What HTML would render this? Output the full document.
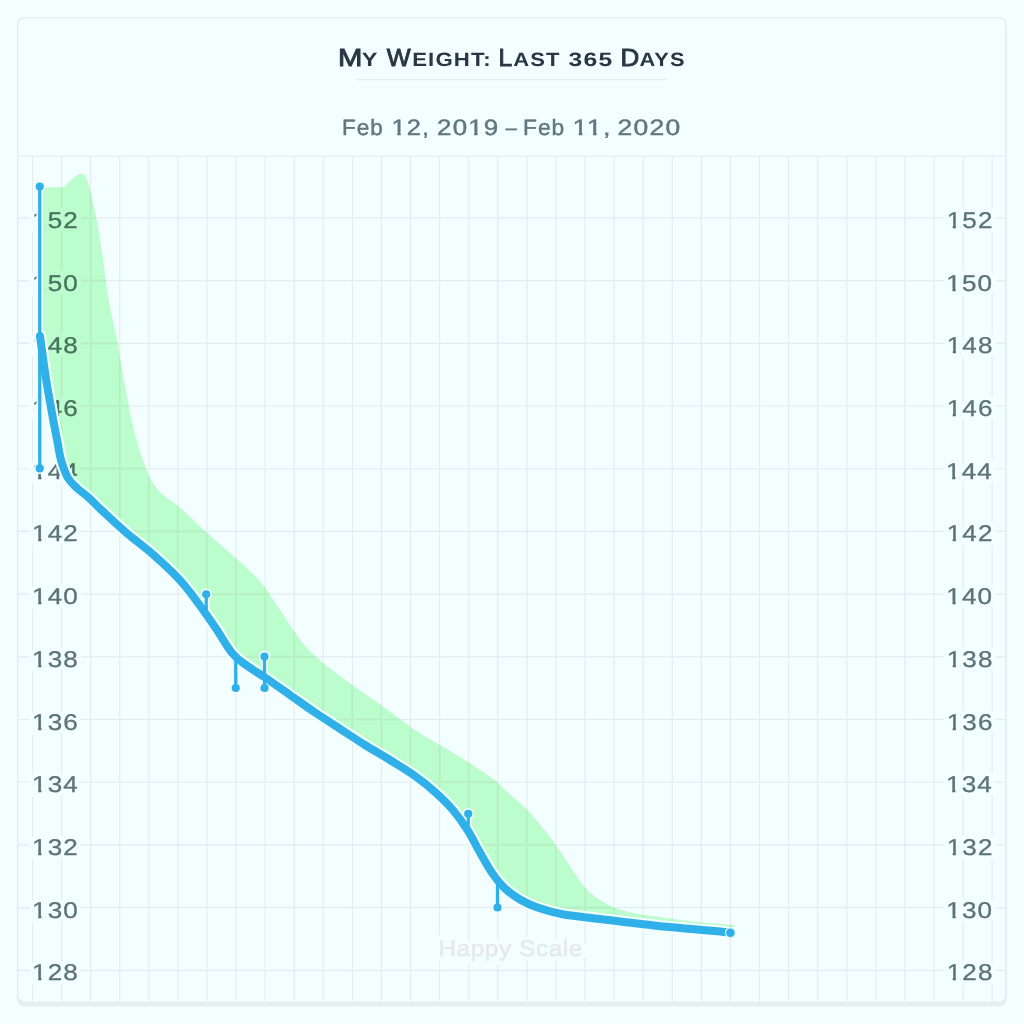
<!DOCTYPE html>
<html lang="en"><head><meta charset="utf-8"><title>My Weight: Last 365 Days</title>
<style>
html,body{margin:0;padding:0;background:#f2feff;}
body{width:1024px;height:1024px;overflow:hidden;position:relative;}
svg{position:absolute;left:0;top:0;display:block;}
text{font-family:"Liberation Sans",sans-serif;text-rendering:geometricPrecision;}
.halo{fill:#f2feff;stroke:#f2feff;stroke-width:9px;stroke-linejoin:round;}
.axf{stroke:#5d7376;stroke-width:0.3px;}
</style></head><body>
<svg width="1024" height="1024" viewBox="0 0 1024 1024">
<rect width="1024" height="1024" fill="#f2feff"/>
<defs><clipPath id="k0"><path clip-rule="evenodd" d="M-6 -40H400V14H-6ZM0.20 -2.93H5.11V3H0.20ZM8.02 -2.93H11.70V3H8.02Z"/></clipPath><clipPath id="k1"><path clip-rule="evenodd" d="M-6 -40H400V14H-6ZM26.89 -2.93H31.80V3H26.89ZM34.71 -2.93H38.39V3H34.71Z"/></clipPath><clipPath id="k2"><path clip-rule="evenodd" d="M-6 -40H400V14H-6ZM0.20 -2.93H5.11V3H0.20ZM8.02 -2.93H11.70V3H8.02ZM11.90 -2.93H16.81V3H11.90ZM19.72 -2.93H23.40V3H19.72Z"/></clipPath><clipPath id="k3"><path clip-rule="evenodd" d="M-6 -40H400V14H-6ZM0.20 -2.90H5.33V3H0.20ZM8.15 -2.90H11.99V3H8.15Z"/></clipPath><clipPath id="k4"><path clip-rule="evenodd" d="M-6 -40H400V14H-6ZM0.20 -2.90H5.33V3H0.20ZM8.15 -2.90H11.99V3H8.15Z"/></clipPath><clipPath id="k5"><path clip-rule="evenodd" d="M-6 -40H400V14H-6ZM0.20 -2.90H5.33V3H0.20ZM8.15 -2.90H11.99V3H8.15Z"/></clipPath><clipPath id="k6"><path clip-rule="evenodd" d="M-6 -40H400V14H-6ZM0.20 -2.90H5.33V3H0.20ZM8.15 -2.90H11.99V3H8.15Z"/></clipPath><clipPath id="k7"><path clip-rule="evenodd" d="M-6 -40H400V14H-6ZM0.20 -2.90H5.33V3H0.20ZM8.15 -2.90H11.99V3H8.15Z"/></clipPath><clipPath id="k8"><path clip-rule="evenodd" d="M-6 -40H400V14H-6ZM0.20 -2.90H5.33V3H0.20ZM8.15 -2.90H11.99V3H8.15Z"/></clipPath><clipPath id="k9"><path clip-rule="evenodd" d="M-6 -40H400V14H-6ZM0.20 -2.90H5.33V3H0.20ZM8.15 -2.90H11.99V3H8.15Z"/></clipPath><clipPath id="k10"><path clip-rule="evenodd" d="M-6 -40H400V14H-6ZM0.20 -2.90H5.33V3H0.20ZM8.15 -2.90H11.99V3H8.15Z"/></clipPath><clipPath id="k11"><path clip-rule="evenodd" d="M-6 -40H400V14H-6ZM0.20 -2.90H5.33V3H0.20ZM8.15 -2.90H11.99V3H8.15Z"/></clipPath><clipPath id="k12"><path clip-rule="evenodd" d="M-6 -40H400V14H-6ZM0.20 -2.90H5.33V3H0.20ZM8.15 -2.90H11.99V3H8.15Z"/></clipPath><clipPath id="k13"><path clip-rule="evenodd" d="M-6 -40H400V14H-6ZM0.20 -2.90H5.33V3H0.20ZM8.15 -2.90H11.99V3H8.15Z"/></clipPath><clipPath id="k14"><path clip-rule="evenodd" d="M-6 -40H400V14H-6ZM0.20 -2.90H5.33V3H0.20ZM8.15 -2.90H11.99V3H8.15Z"/></clipPath><clipPath id="k15"><path clip-rule="evenodd" d="M-6 -40H400V14H-6ZM0.20 -2.90H5.33V3H0.20ZM8.15 -2.90H11.99V3H8.15Z"/></clipPath></defs>
<rect x="17.6" y="21.0" width="988.2" height="984.8" rx="6.5" ry="6.5" fill="#e7eeef" stroke="#e7eeef" stroke-width="1.2"/>
<rect x="17.6" y="17.6" width="988.2" height="984.8" rx="6.5" ry="6.5" fill="#f2feff" stroke="#e2ecee" stroke-width="1.3"/>
<g><text transform="translate(337.98 66.00) scale(1.1800 1)" style="font-size:24.8px;fill:#2b3644;stroke:#2b3644;stroke-width:0.9px">M</text><text transform="translate(361.64 66.00) scale(1.2208 1)" style="font-size:19.3px;font-weight:bold;letter-spacing:1px;fill:#2b3644">Y</text> <text transform="translate(386.71 66.00) scale(1.0204 1)" style="font-size:24.8px;fill:#2b3644;stroke:#2b3644;stroke-width:0.9px">W</text><text transform="translate(412.16 66.00) scale(1.1508 1)" style="font-size:19.3px;font-weight:bold;letter-spacing:1px;fill:#2b3644">EIGHT:</text> <text transform="translate(498.61 66.00) scale(0.9917 1)" style="font-size:24.8px;fill:#2b3644;stroke:#2b3644;stroke-width:0.9px">L</text><text transform="translate(513.23 66.00) scale(1.1400 1)" style="font-size:19.3px;font-weight:bold;letter-spacing:1px;fill:#2b3644">AST</text> <text transform="translate(568.46 66.00) scale(1.2788 1)" style="font-size:19.3px;font-weight:bold;letter-spacing:1px;fill:#2b3644">365</text> <text transform="translate(620.43 66.00) scale(1.0476 1)" style="font-size:24.8px;fill:#2b3644;stroke:#2b3644;stroke-width:0.9px">D</text><text transform="translate(639.44 66.00) scale(1.1299 1)" style="font-size:19.3px;font-weight:bold;letter-spacing:1px;fill:#2b3644">AYS</text></g>
<path d="M356 79.5H667" stroke="#e6f0f2" stroke-width="1.5"/>
<g><text transform="translate(341.98 135.00) scale(1.0132 1)" style="font-size:22.2px;letter-spacing:1px;fill:#61777b;stroke:#61777b;stroke-width:0.45px">Feb</text> <text transform="translate(391.48 135.00) scale(1.1458 1)" style="font-size:22.2px;letter-spacing:1px;fill:#61777b;stroke:#61777b;stroke-width:0.45px" clip-path="url(#k0)">12,</text> <text transform="translate(437.03 135.00) scale(1.1693 1)" style="font-size:22.2px;letter-spacing:1px;fill:#61777b;stroke:#61777b;stroke-width:0.45px" clip-path="url(#k1)">2019</text> <text transform="translate(505.73 135.00) scale(0.9020 1)" style="font-size:22.2px;letter-spacing:1px;fill:#61777b;stroke:#61777b;stroke-width:0.45px">–</text> <text transform="translate(522.96 135.00) scale(1.0263 1)" style="font-size:22.2px;letter-spacing:1px;fill:#61777b;stroke:#61777b;stroke-width:0.45px">Feb</text> <text transform="translate(572.57 135.00) scale(1.2179 1)" style="font-size:22.2px;letter-spacing:1px;fill:#61777b;stroke:#61777b;stroke-width:0.45px" clip-path="url(#k2)">11,</text> <text transform="translate(617.61 135.00) scale(1.1941 1)" style="font-size:22.2px;letter-spacing:1px;fill:#61777b;stroke:#61777b;stroke-width:0.45px">2020</text></g>
<path d="M32.50 156.25V1002.40M61.58 156.25V1002.40M90.66 156.25V1002.40M119.74 156.25V1002.40M148.82 156.25V1002.40M177.90 156.25V1002.40M206.98 156.25V1002.40M236.06 156.25V1002.40M265.14 156.25V1002.40M294.22 156.25V1002.40M323.30 156.25V1002.40M352.38 156.25V1002.40M381.46 156.25V1002.40M410.54 156.25V1002.40M439.62 156.25V1002.40M468.70 156.25V1002.40M497.78 156.25V1002.40M526.86 156.25V1002.40M555.94 156.25V1002.40M585.02 156.25V1002.40M614.10 156.25V1002.40M643.18 156.25V1002.40M672.26 156.25V1002.40M701.34 156.25V1002.40M730.42 156.25V1002.40M759.50 156.25V1002.40M788.58 156.25V1002.40M817.66 156.25V1002.40M846.74 156.25V1002.40M875.82 156.25V1002.40M904.90 156.25V1002.40M933.98 156.25V1002.40M963.06 156.25V1002.40M992.14 156.25V1002.40M17.60 156.25H1005.80M17.60 970.30H1005.80M17.60 907.60H1005.80M17.60 844.90H1005.80M17.60 782.20H1005.80M17.60 719.50H1005.80M17.60 656.80H1005.80M17.60 594.10H1005.80M17.60 531.40H1005.80M17.60 468.70H1005.80M17.60 406.00H1005.80M17.60 343.30H1005.80M17.60 280.60H1005.80M17.60 217.90H1005.80" stroke="#e4ecee" stroke-width="1.15" fill="none"/>
<clipPath id="gb"><path d="M40.0 187.0C43.7 187.0 57.0 188.0 62.0 187.0C67.0 186.0 67.0 183.2 70.0 181.0C73.0 178.8 77.2 174.5 80.0 174.0C82.8 173.5 84.2 172.8 86.5 178.0C88.8 183.2 91.1 193.8 93.5 205.0C95.9 216.2 98.5 229.2 101.0 245.0C103.5 260.8 106.1 284.3 108.8 300.0C111.5 315.7 114.5 326.0 117.0 339.0C119.5 352.0 121.2 365.0 123.5 378.0C125.8 391.0 128.8 406.7 131.0 417.0C133.2 427.3 134.7 433.5 136.5 440.0C138.3 446.5 139.8 450.6 141.6 456.0C143.4 461.4 145.6 468.0 147.5 472.5C149.4 477.0 150.9 479.8 153.0 483.0C155.1 486.2 157.5 489.4 160.0 492.0C162.5 494.6 164.7 495.9 168.0 498.5C171.3 501.1 174.2 502.5 180.0 507.5C185.8 512.5 193.3 520.4 202.5 528.8C211.7 537.1 226.8 550.1 235.0 557.5C243.2 564.9 247.0 568.0 252.0 573.0C257.0 578.0 259.9 580.7 265.0 587.5C270.1 594.3 276.2 604.6 282.5 613.8C288.8 622.9 295.8 634.4 302.5 642.5C309.2 650.6 314.2 655.4 322.5 662.5C330.8 669.6 342.5 677.8 352.5 685.0C362.5 692.2 372.1 698.5 382.5 706.0C392.9 713.5 405.4 723.5 415.0 730.0C424.6 736.5 431.7 740.0 440.0 745.0C448.3 750.0 455.7 754.0 465.0 760.0C474.3 766.0 489.3 776.0 496.0 781.0C502.7 786.0 500.2 785.6 505.0 790.0C509.8 794.4 518.8 801.2 525.0 807.5C531.2 813.8 537.1 820.8 542.5 827.5C547.9 834.2 552.5 840.4 557.5 847.5C562.5 854.6 567.9 863.3 572.5 870.0C577.1 876.7 580.4 882.5 585.0 887.5C589.6 892.5 594.6 896.5 600.0 900.0C605.4 903.5 611.2 906.5 617.5 908.8C623.8 911.0 630.6 912.4 637.5 913.8C644.4 915.1 648.6 915.6 658.6 917.0C668.6 918.4 684.9 920.7 697.6 922.0C710.3 923.3 728.8 924.5 735.0 925.0L727.0 932.3C715.6 931.2 679.8 928.2 658.6 926.0C637.4 923.8 616.0 921.0 600.0 919.0C584.0 917.0 572.9 916.2 562.5 914.3C552.1 912.4 544.6 910.1 537.5 907.6C530.4 905.1 525.4 902.7 520.0 899.5C514.6 896.3 509.6 892.8 505.0 888.5C500.4 884.2 496.7 879.5 492.5 873.5C488.3 867.5 484.2 859.8 480.0 852.5C475.8 845.2 472.1 837.2 467.5 830.0C462.9 822.8 457.9 815.8 452.5 809.5C447.1 803.2 441.2 797.6 435.0 792.0C428.8 786.4 422.5 781.3 415.0 776.0C407.5 770.7 398.3 765.2 390.0 760.0C381.7 754.8 373.3 750.2 365.0 745.0C356.7 739.8 348.3 734.2 340.0 728.8C331.7 723.3 323.3 718.1 315.0 712.5C306.7 706.9 298.3 700.8 290.0 695.0C281.7 689.2 272.1 682.3 265.0 677.5C257.9 672.7 252.9 670.0 247.5 666.0C242.1 662.0 237.9 660.0 232.5 653.5C227.1 647.0 221.2 636.1 215.0 627.0C208.8 617.9 201.2 607.0 195.0 598.8C188.8 590.5 184.6 585.0 177.5 577.5C170.4 570.0 160.8 561.3 152.5 554.0C144.2 546.7 135.8 540.9 127.5 533.8C119.2 526.6 109.1 517.1 102.5 511.0C95.9 504.9 92.2 500.8 88.0 497.0C83.8 493.2 80.8 491.7 77.5 488.5C74.2 485.3 70.8 482.8 68.0 478.0C65.2 473.2 62.8 466.0 61.0 460.0C59.2 454.0 58.9 449.2 57.5 442.0C56.1 434.8 54.6 427.7 52.7 417.0C50.8 406.3 48.0 391.5 45.9 378.0C43.8 364.5 41.0 343.0 40.0 336.0Z"/></clipPath>
<path d="M32.50 156.25V1002.40M61.58 156.25V1002.40M90.66 156.25V1002.40M119.74 156.25V1002.40M148.82 156.25V1002.40M177.90 156.25V1002.40M206.98 156.25V1002.40M236.06 156.25V1002.40M265.14 156.25V1002.40M294.22 156.25V1002.40M323.30 156.25V1002.40M352.38 156.25V1002.40M381.46 156.25V1002.40M410.54 156.25V1002.40M439.62 156.25V1002.40M468.70 156.25V1002.40M497.78 156.25V1002.40M526.86 156.25V1002.40M555.94 156.25V1002.40M585.02 156.25V1002.40M614.10 156.25V1002.40M643.18 156.25V1002.40M672.26 156.25V1002.40M701.34 156.25V1002.40M730.42 156.25V1002.40M759.50 156.25V1002.40M788.58 156.25V1002.40M817.66 156.25V1002.40M846.74 156.25V1002.40M875.82 156.25V1002.40M904.90 156.25V1002.40M933.98 156.25V1002.40M963.06 156.25V1002.40M992.14 156.25V1002.40M17.60 156.25H1005.80M17.60 970.30H1005.80M17.60 907.60H1005.80M17.60 844.90H1005.80M17.60 782.20H1005.80M17.60 719.50H1005.80M17.60 656.80H1005.80M17.60 594.10H1005.80M17.60 531.40H1005.80M17.60 468.70H1005.80M17.60 406.00H1005.80M17.60 343.30H1005.80M17.60 280.60H1005.80M17.60 217.90H1005.80" stroke="#ecf6f7" stroke-width="2.2" fill="none" clip-path="url(#gb)"/>
<path d="M32.50 156.25V1002.40M61.58 156.25V1002.40M90.66 156.25V1002.40M119.74 156.25V1002.40M148.82 156.25V1002.40M177.90 156.25V1002.40M206.98 156.25V1002.40M236.06 156.25V1002.40M265.14 156.25V1002.40M294.22 156.25V1002.40M323.30 156.25V1002.40M352.38 156.25V1002.40M381.46 156.25V1002.40M410.54 156.25V1002.40M439.62 156.25V1002.40M468.70 156.25V1002.40M497.78 156.25V1002.40M526.86 156.25V1002.40M555.94 156.25V1002.40M585.02 156.25V1002.40M614.10 156.25V1002.40M643.18 156.25V1002.40M672.26 156.25V1002.40M701.34 156.25V1002.40M730.42 156.25V1002.40M759.50 156.25V1002.40M788.58 156.25V1002.40M817.66 156.25V1002.40M846.74 156.25V1002.40M875.82 156.25V1002.40M904.90 156.25V1002.40M933.98 156.25V1002.40M963.06 156.25V1002.40M992.14 156.25V1002.40M17.60 156.25H1005.80M17.60 970.30H1005.80M17.60 907.60H1005.80M17.60 844.90H1005.80M17.60 782.20H1005.80M17.60 719.50H1005.80M17.60 656.80H1005.80M17.60 594.10H1005.80M17.60 531.40H1005.80M17.60 468.70H1005.80M17.60 406.00H1005.80M17.60 343.30H1005.80M17.60 280.60H1005.80M17.60 217.90H1005.80" stroke="#e6f0f2" stroke-width="1.15" fill="none" clip-path="url(#gb)"/>
<text class="halo" transform="translate(32.10 228.00) scale(1.1425 1)" style="font-size:22.8px;letter-spacing:1px;fill:#f2feff">152</text>
<text class="halo" transform="translate(946.64 228.00) scale(1.1425 1)" style="font-size:22.8px;letter-spacing:1px;fill:#f2feff">152</text>
<text class="halo" transform="translate(32.10 291.00) scale(1.1425 1)" style="font-size:22.8px;letter-spacing:1px;fill:#f2feff">150</text>
<text class="halo" transform="translate(946.36 291.00) scale(1.1425 1)" style="font-size:22.8px;letter-spacing:1px;fill:#f2feff">150</text>
<text class="halo" transform="translate(32.10 353.00) scale(1.1425 1)" style="font-size:22.8px;letter-spacing:1px;fill:#f2feff">148</text>
<text class="halo" transform="translate(946.64 353.00) scale(1.1425 1)" style="font-size:22.8px;letter-spacing:1px;fill:#f2feff">148</text>
<text class="halo" transform="translate(32.10 416.00) scale(1.1425 1)" style="font-size:22.8px;letter-spacing:1px;fill:#f2feff">146</text>
<text class="halo" transform="translate(946.64 416.00) scale(1.1425 1)" style="font-size:22.8px;letter-spacing:1px;fill:#f2feff">146</text>
<text class="halo" transform="translate(32.10 479.00) scale(1.1425 1)" style="font-size:22.8px;letter-spacing:1px;fill:#f2feff">144</text>
<text class="halo" transform="translate(946.07 479.00) scale(1.1425 1)" style="font-size:22.8px;letter-spacing:1px;fill:#f2feff">144</text>
<text class="halo" transform="translate(32.10 541.00) scale(1.1425 1)" style="font-size:22.8px;letter-spacing:1px;fill:#f2feff">142</text>
<text class="halo" transform="translate(946.64 541.00) scale(1.1425 1)" style="font-size:22.8px;letter-spacing:1px;fill:#f2feff">142</text>
<text class="halo" transform="translate(32.10 604.00) scale(1.1425 1)" style="font-size:22.8px;letter-spacing:1px;fill:#f2feff">140</text>
<text class="halo" transform="translate(946.36 604.00) scale(1.1425 1)" style="font-size:22.8px;letter-spacing:1px;fill:#f2feff">140</text>
<text class="halo" transform="translate(32.10 667.00) scale(1.1425 1)" style="font-size:22.8px;letter-spacing:1px;fill:#f2feff">138</text>
<text class="halo" transform="translate(946.64 667.00) scale(1.1425 1)" style="font-size:22.8px;letter-spacing:1px;fill:#f2feff">138</text>
<text class="halo" transform="translate(32.10 730.00) scale(1.1425 1)" style="font-size:22.8px;letter-spacing:1px;fill:#f2feff">136</text>
<text class="halo" transform="translate(946.64 730.00) scale(1.1425 1)" style="font-size:22.8px;letter-spacing:1px;fill:#f2feff">136</text>
<text class="halo" transform="translate(32.10 792.00) scale(1.1425 1)" style="font-size:22.8px;letter-spacing:1px;fill:#f2feff">134</text>
<text class="halo" transform="translate(946.07 792.00) scale(1.1425 1)" style="font-size:22.8px;letter-spacing:1px;fill:#f2feff">134</text>
<text class="halo" transform="translate(32.10 855.00) scale(1.1425 1)" style="font-size:22.8px;letter-spacing:1px;fill:#f2feff">132</text>
<text class="halo" transform="translate(946.64 855.00) scale(1.1425 1)" style="font-size:22.8px;letter-spacing:1px;fill:#f2feff">132</text>
<text class="halo" transform="translate(32.10 918.00) scale(1.1425 1)" style="font-size:22.8px;letter-spacing:1px;fill:#f2feff">130</text>
<text class="halo" transform="translate(946.36 918.00) scale(1.1425 1)" style="font-size:22.8px;letter-spacing:1px;fill:#f2feff">130</text>
<text class="halo" transform="translate(32.10 980.00) scale(1.1425 1)" style="font-size:22.8px;letter-spacing:1px;fill:#f2feff">128</text>
<text class="halo" transform="translate(946.64 980.00) scale(1.1425 1)" style="font-size:22.8px;letter-spacing:1px;fill:#f2feff">128</text>
<text class="axf" transform="translate(32.10 228.00) scale(1.1425 1)" style="font-size:22.8px;letter-spacing:1px;fill:#5d7376" clip-path="url(#k3)">152</text>
<text class="axf" transform="translate(946.64 228.00) scale(1.1425 1)" style="font-size:22.8px;letter-spacing:1px;fill:#5d7376" clip-path="url(#k3)">152</text>
<text class="axf" transform="translate(32.10 291.00) scale(1.1425 1)" style="font-size:22.8px;letter-spacing:1px;fill:#5d7376" clip-path="url(#k4)">150</text>
<text class="axf" transform="translate(946.36 291.00) scale(1.1425 1)" style="font-size:22.8px;letter-spacing:1px;fill:#5d7376" clip-path="url(#k4)">150</text>
<text class="axf" transform="translate(32.10 353.00) scale(1.1425 1)" style="font-size:22.8px;letter-spacing:1px;fill:#5d7376" clip-path="url(#k5)">148</text>
<text class="axf" transform="translate(946.64 353.00) scale(1.1425 1)" style="font-size:22.8px;letter-spacing:1px;fill:#5d7376" clip-path="url(#k5)">148</text>
<text class="axf" transform="translate(32.10 416.00) scale(1.1425 1)" style="font-size:22.8px;letter-spacing:1px;fill:#5d7376" clip-path="url(#k6)">146</text>
<text class="axf" transform="translate(946.64 416.00) scale(1.1425 1)" style="font-size:22.8px;letter-spacing:1px;fill:#5d7376" clip-path="url(#k6)">146</text>
<text class="axf" transform="translate(32.10 479.00) scale(1.1425 1)" style="font-size:22.8px;letter-spacing:1px;fill:#5d7376" clip-path="url(#k7)">144</text>
<text class="axf" transform="translate(946.07 479.00) scale(1.1425 1)" style="font-size:22.8px;letter-spacing:1px;fill:#5d7376" clip-path="url(#k7)">144</text>
<text class="axf" transform="translate(32.10 541.00) scale(1.1425 1)" style="font-size:22.8px;letter-spacing:1px;fill:#5d7376" clip-path="url(#k8)">142</text>
<text class="axf" transform="translate(946.64 541.00) scale(1.1425 1)" style="font-size:22.8px;letter-spacing:1px;fill:#5d7376" clip-path="url(#k8)">142</text>
<text class="axf" transform="translate(32.10 604.00) scale(1.1425 1)" style="font-size:22.8px;letter-spacing:1px;fill:#5d7376" clip-path="url(#k9)">140</text>
<text class="axf" transform="translate(946.36 604.00) scale(1.1425 1)" style="font-size:22.8px;letter-spacing:1px;fill:#5d7376" clip-path="url(#k9)">140</text>
<text class="axf" transform="translate(32.10 667.00) scale(1.1425 1)" style="font-size:22.8px;letter-spacing:1px;fill:#5d7376" clip-path="url(#k10)">138</text>
<text class="axf" transform="translate(946.64 667.00) scale(1.1425 1)" style="font-size:22.8px;letter-spacing:1px;fill:#5d7376" clip-path="url(#k10)">138</text>
<text class="axf" transform="translate(32.10 730.00) scale(1.1425 1)" style="font-size:22.8px;letter-spacing:1px;fill:#5d7376" clip-path="url(#k11)">136</text>
<text class="axf" transform="translate(946.64 730.00) scale(1.1425 1)" style="font-size:22.8px;letter-spacing:1px;fill:#5d7376" clip-path="url(#k11)">136</text>
<text class="axf" transform="translate(32.10 792.00) scale(1.1425 1)" style="font-size:22.8px;letter-spacing:1px;fill:#5d7376" clip-path="url(#k12)">134</text>
<text class="axf" transform="translate(946.07 792.00) scale(1.1425 1)" style="font-size:22.8px;letter-spacing:1px;fill:#5d7376" clip-path="url(#k12)">134</text>
<text class="axf" transform="translate(32.10 855.00) scale(1.1425 1)" style="font-size:22.8px;letter-spacing:1px;fill:#5d7376" clip-path="url(#k13)">132</text>
<text class="axf" transform="translate(946.64 855.00) scale(1.1425 1)" style="font-size:22.8px;letter-spacing:1px;fill:#5d7376" clip-path="url(#k13)">132</text>
<text class="axf" transform="translate(32.10 918.00) scale(1.1425 1)" style="font-size:22.8px;letter-spacing:1px;fill:#5d7376" clip-path="url(#k14)">130</text>
<text class="axf" transform="translate(946.36 918.00) scale(1.1425 1)" style="font-size:22.8px;letter-spacing:1px;fill:#5d7376" clip-path="url(#k14)">130</text>
<text class="axf" transform="translate(32.10 980.00) scale(1.1425 1)" style="font-size:22.8px;letter-spacing:1px;fill:#5d7376" clip-path="url(#k15)">128</text>
<text class="axf" transform="translate(946.64 980.00) scale(1.1425 1)" style="font-size:22.8px;letter-spacing:1px;fill:#5d7376" clip-path="url(#k15)">128</text>
<text transform="translate(438.40 956.20) scale(1.0862 1)" style="font-size:22.5px;letter-spacing:0.5px;fill:#f2feff;stroke:#f2feff;stroke-width:10px;stroke-linejoin:round">Happy Scale</text>
<text transform="translate(438.40 956.20) scale(1.0862 1)" style="font-size:22.5px;letter-spacing:0.5px;fill:#e3eae8;stroke:#e3eae8;stroke-width:0.4px">Happy Scale</text>
<path d="M40.0 187.0C43.7 187.0 57.0 188.0 62.0 187.0C67.0 186.0 67.0 183.2 70.0 181.0C73.0 178.8 77.2 174.5 80.0 174.0C82.8 173.5 84.2 172.8 86.5 178.0C88.8 183.2 91.1 193.8 93.5 205.0C95.9 216.2 98.5 229.2 101.0 245.0C103.5 260.8 106.1 284.3 108.8 300.0C111.5 315.7 114.5 326.0 117.0 339.0C119.5 352.0 121.2 365.0 123.5 378.0C125.8 391.0 128.8 406.7 131.0 417.0C133.2 427.3 134.7 433.5 136.5 440.0C138.3 446.5 139.8 450.6 141.6 456.0C143.4 461.4 145.6 468.0 147.5 472.5C149.4 477.0 150.9 479.8 153.0 483.0C155.1 486.2 157.5 489.4 160.0 492.0C162.5 494.6 164.7 495.9 168.0 498.5C171.3 501.1 174.2 502.5 180.0 507.5C185.8 512.5 193.3 520.4 202.5 528.8C211.7 537.1 226.8 550.1 235.0 557.5C243.2 564.9 247.0 568.0 252.0 573.0C257.0 578.0 259.9 580.7 265.0 587.5C270.1 594.3 276.2 604.6 282.5 613.8C288.8 622.9 295.8 634.4 302.5 642.5C309.2 650.6 314.2 655.4 322.5 662.5C330.8 669.6 342.5 677.8 352.5 685.0C362.5 692.2 372.1 698.5 382.5 706.0C392.9 713.5 405.4 723.5 415.0 730.0C424.6 736.5 431.7 740.0 440.0 745.0C448.3 750.0 455.7 754.0 465.0 760.0C474.3 766.0 489.3 776.0 496.0 781.0C502.7 786.0 500.2 785.6 505.0 790.0C509.8 794.4 518.8 801.2 525.0 807.5C531.2 813.8 537.1 820.8 542.5 827.5C547.9 834.2 552.5 840.4 557.5 847.5C562.5 854.6 567.9 863.3 572.5 870.0C577.1 876.7 580.4 882.5 585.0 887.5C589.6 892.5 594.6 896.5 600.0 900.0C605.4 903.5 611.2 906.5 617.5 908.8C623.8 911.0 630.6 912.4 637.5 913.8C644.4 915.1 648.6 915.6 658.6 917.0C668.6 918.4 684.9 920.7 697.6 922.0C710.3 923.3 728.8 924.5 735.0 925.0L727.0 932.3C715.6 931.2 679.8 928.2 658.6 926.0C637.4 923.8 616.0 921.0 600.0 919.0C584.0 917.0 572.9 916.2 562.5 914.3C552.1 912.4 544.6 910.1 537.5 907.6C530.4 905.1 525.4 902.7 520.0 899.5C514.6 896.3 509.6 892.8 505.0 888.5C500.4 884.2 496.7 879.5 492.5 873.5C488.3 867.5 484.2 859.8 480.0 852.5C475.8 845.2 472.1 837.2 467.5 830.0C462.9 822.8 457.9 815.8 452.5 809.5C447.1 803.2 441.2 797.6 435.0 792.0C428.8 786.4 422.5 781.3 415.0 776.0C407.5 770.7 398.3 765.2 390.0 760.0C381.7 754.8 373.3 750.2 365.0 745.0C356.7 739.8 348.3 734.2 340.0 728.8C331.7 723.3 323.3 718.1 315.0 712.5C306.7 706.9 298.3 700.8 290.0 695.0C281.7 689.2 272.1 682.3 265.0 677.5C257.9 672.7 252.9 670.0 247.5 666.0C242.1 662.0 237.9 660.0 232.5 653.5C227.1 647.0 221.2 636.1 215.0 627.0C208.8 617.9 201.2 607.0 195.0 598.8C188.8 590.5 184.6 585.0 177.5 577.5C170.4 570.0 160.8 561.3 152.5 554.0C144.2 546.7 135.8 540.9 127.5 533.8C119.2 526.6 109.1 517.1 102.5 511.0C95.9 504.9 92.2 500.8 88.0 497.0C83.8 493.2 80.8 491.7 77.5 488.5C74.2 485.3 70.8 482.8 68.0 478.0C65.2 473.2 62.8 466.0 61.0 460.0C59.2 454.0 58.9 449.2 57.5 442.0C56.1 434.8 54.6 427.7 52.7 417.0C50.8 406.3 48.0 391.5 45.9 378.0C43.8 364.5 41.0 343.0 40.0 336.0Z" fill="#c6fecd" style="mix-blend-mode:multiply"/>
<path d="M40.0 336.0C41.0 343.0 43.8 364.5 45.9 378.0C48.0 391.5 50.8 406.3 52.7 417.0C54.6 427.7 56.1 434.8 57.5 442.0C58.9 449.2 59.2 454.0 61.0 460.0C62.8 466.0 65.2 473.2 68.0 478.0C70.8 482.8 74.2 485.3 77.5 488.5C80.8 491.7 83.8 493.2 88.0 497.0C92.2 500.8 95.9 504.9 102.5 511.0C109.1 517.1 119.2 526.6 127.5 533.8C135.8 540.9 144.2 546.7 152.5 554.0C160.8 561.3 170.4 570.0 177.5 577.5C184.6 585.0 188.8 590.5 195.0 598.8C201.2 607.0 208.8 617.9 215.0 627.0C221.2 636.1 227.1 647.0 232.5 653.5C237.9 660.0 242.1 662.0 247.5 666.0C252.9 670.0 257.9 672.7 265.0 677.5C272.1 682.3 281.7 689.2 290.0 695.0C298.3 700.8 306.7 706.9 315.0 712.5C323.3 718.1 331.7 723.3 340.0 728.8C348.3 734.2 356.7 739.8 365.0 745.0C373.3 750.2 381.7 754.8 390.0 760.0C398.3 765.2 407.5 770.7 415.0 776.0C422.5 781.3 428.8 786.4 435.0 792.0C441.2 797.6 447.1 803.2 452.5 809.5C457.9 815.8 462.9 822.8 467.5 830.0C472.1 837.2 475.8 845.2 480.0 852.5C484.2 859.8 488.3 867.5 492.5 873.5C496.7 879.5 500.4 884.2 505.0 888.5C509.6 892.8 514.6 896.3 520.0 899.5C525.4 902.7 530.4 905.1 537.5 907.6C544.6 910.1 552.1 912.4 562.5 914.3C572.9 916.2 584.0 917.0 600.0 919.0C616.0 921.0 637.4 923.8 658.6 926.0C679.8 928.2 715.6 931.2 727.0 932.3" fill="none" stroke="#f2feff" stroke-width="12.3" stroke-linecap="round" stroke-linejoin="round"/>
<path d="M39.75 186.50V468.40" stroke="#f2feff" stroke-width="6.5" fill="none" stroke-linecap="round"/>
<circle cx="39.75" cy="186.50" r="5.7" fill="#f2feff"/>
<circle cx="39.75" cy="468.40" r="5.7" fill="#f2feff"/>
<path d="M206.25 594.25V613.00" stroke="#f2feff" stroke-width="6.5" fill="none" stroke-linecap="round"/>
<circle cx="206.25" cy="594.25" r="5.7" fill="#f2feff"/>
<path d="M235.75 656.00V688.00" stroke="#f2feff" stroke-width="6.5" fill="none" stroke-linecap="round"/>
<circle cx="235.75" cy="688.00" r="5.7" fill="#f2feff"/>
<path d="M264.50 656.50V688.00" stroke="#f2feff" stroke-width="6.5" fill="none" stroke-linecap="round"/>
<circle cx="264.50" cy="656.50" r="5.7" fill="#f2feff"/>
<circle cx="264.50" cy="688.00" r="5.7" fill="#f2feff"/>
<path d="M468.25 813.75V831.00" stroke="#f2feff" stroke-width="6.5" fill="none" stroke-linecap="round"/>
<circle cx="468.25" cy="813.75" r="5.7" fill="#f2feff"/>
<path d="M497.50 878.00V907.50" stroke="#f2feff" stroke-width="6.5" fill="none" stroke-linecap="round"/>
<circle cx="497.50" cy="907.50" r="5.7" fill="#f2feff"/>
<path d="M39.75 186.50V468.40" stroke="#2fb0e8" stroke-width="3.3" fill="none"/>
<circle cx="39.75" cy="186.50" r="4.1" fill="#2fb0e8"/>
<circle cx="39.75" cy="468.40" r="4.1" fill="#2fb0e8"/>
<path d="M206.25 594.25V613.00" stroke="#2fb0e8" stroke-width="3.3" fill="none"/>
<circle cx="206.25" cy="594.25" r="4.1" fill="#2fb0e8"/>
<path d="M235.75 656.00V688.00" stroke="#2fb0e8" stroke-width="3.3" fill="none"/>
<circle cx="235.75" cy="688.00" r="4.1" fill="#2fb0e8"/>
<path d="M264.50 656.50V688.00" stroke="#2fb0e8" stroke-width="3.3" fill="none"/>
<circle cx="264.50" cy="656.50" r="4.1" fill="#2fb0e8"/>
<circle cx="264.50" cy="688.00" r="4.1" fill="#2fb0e8"/>
<path d="M468.25 813.75V831.00" stroke="#2fb0e8" stroke-width="3.3" fill="none"/>
<circle cx="468.25" cy="813.75" r="4.1" fill="#2fb0e8"/>
<path d="M497.50 878.00V907.50" stroke="#2fb0e8" stroke-width="3.3" fill="none"/>
<circle cx="497.50" cy="907.50" r="4.1" fill="#2fb0e8"/>
<path d="M40.0 336.0C41.0 343.0 43.8 364.5 45.9 378.0C48.0 391.5 50.8 406.3 52.7 417.0C54.6 427.7 56.1 434.8 57.5 442.0C58.9 449.2 59.2 454.0 61.0 460.0C62.8 466.0 65.2 473.2 68.0 478.0C70.8 482.8 74.2 485.3 77.5 488.5C80.8 491.7 83.8 493.2 88.0 497.0C92.2 500.8 95.9 504.9 102.5 511.0C109.1 517.1 119.2 526.6 127.5 533.8C135.8 540.9 144.2 546.7 152.5 554.0C160.8 561.3 170.4 570.0 177.5 577.5C184.6 585.0 188.8 590.5 195.0 598.8C201.2 607.0 208.8 617.9 215.0 627.0C221.2 636.1 227.1 647.0 232.5 653.5C237.9 660.0 242.1 662.0 247.5 666.0C252.9 670.0 257.9 672.7 265.0 677.5C272.1 682.3 281.7 689.2 290.0 695.0C298.3 700.8 306.7 706.9 315.0 712.5C323.3 718.1 331.7 723.3 340.0 728.8C348.3 734.2 356.7 739.8 365.0 745.0C373.3 750.2 381.7 754.8 390.0 760.0C398.3 765.2 407.5 770.7 415.0 776.0C422.5 781.3 428.8 786.4 435.0 792.0C441.2 797.6 447.1 803.2 452.5 809.5C457.9 815.8 462.9 822.8 467.5 830.0C472.1 837.2 475.8 845.2 480.0 852.5C484.2 859.8 488.3 867.5 492.5 873.5C496.7 879.5 500.4 884.2 505.0 888.5C509.6 892.8 514.6 896.3 520.0 899.5C525.4 902.7 530.4 905.1 537.5 907.6C544.6 910.1 552.1 912.4 562.5 914.3C572.9 916.2 584.0 917.0 600.0 919.0C616.0 921.0 637.4 923.8 658.6 926.0C679.8 928.2 715.6 931.2 727.0 932.3" fill="none" stroke="#2fb0e8" stroke-width="8" stroke-linecap="round" stroke-linejoin="round"/>
<circle cx="730.4" cy="932.8" r="5.6" fill="#d9f4fb"/>
<circle cx="730.4" cy="932.8" r="4.3" fill="#2fb0e8"/>
</svg>
</body></html>
